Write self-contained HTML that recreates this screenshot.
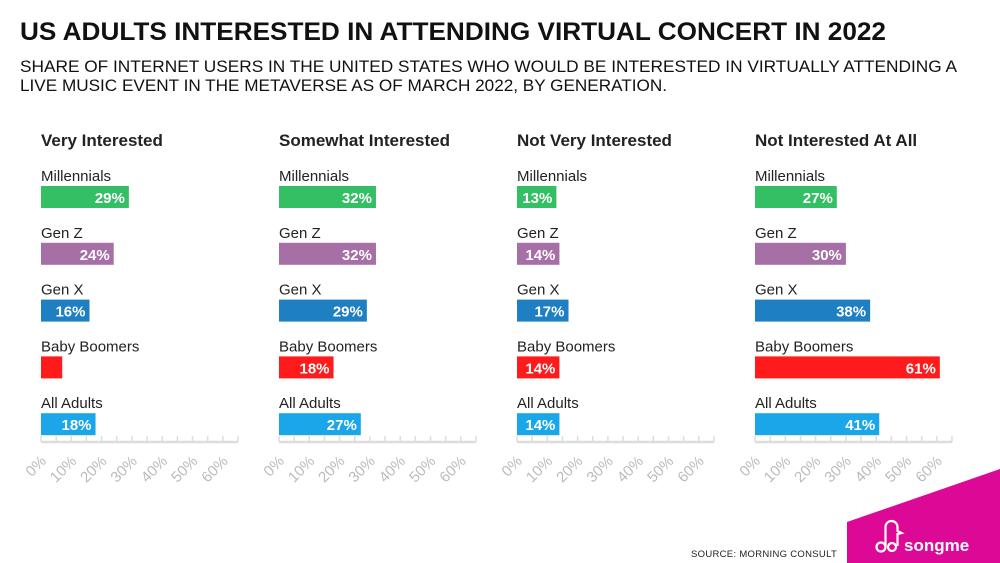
<!DOCTYPE html>
<html><head><meta charset="utf-8"><style>
body{margin:0;width:1000px;height:563px;overflow:hidden;background:#fff;font-family:"Liberation Sans",sans-serif;}
svg{display:block}
</style></head><body>
<svg id="chart" width="1000" height="563" viewBox="0 0 1000 563">
<text x="20" y="40" font-size="25" font-weight="bold" fill="#111" textLength="866" lengthAdjust="spacingAndGlyphs">US ADULTS INTERESTED IN ATTENDING VIRTUAL CONCERT IN 2022</text>
<text x="20" y="72" font-size="16.2" fill="#111" textLength="937" lengthAdjust="spacingAndGlyphs">SHARE OF INTERNET USERS IN THE UNITED STATES WHO WOULD BE INTERESTED IN VIRTUALLY ATTENDING A</text>
<text x="20" y="91" font-size="16.2" fill="#111" textLength="647" lengthAdjust="spacingAndGlyphs">LIVE MUSIC EVENT IN THE METAVERSE AS OF MARCH 2022, BY GENERATION.</text>
<g id="panels"></g>
<text x="691" y="557" font-size="9.5" fill="#222" letter-spacing="0.3">SOURCE: MORNING CONSULT</text>
<polygon points="847,522 1000,469 1000,563 847,563" fill="#dc0896"/>
<g fill="none" stroke="#fff" stroke-width="2.2">
<circle cx="881" cy="547" r="4.5"/><path d="M885.5 547 V527 a6 6 0 0 1 12 0 v4 l4 2 l-4 1 v12"/><circle cx="892" cy="547" r="4"/>
</g>
<text x="904" y="551" font-size="17" font-weight="bold" fill="#fff">songme</text>
</svg>
<script>
const panelTitles=["Very Interested","Somewhat Interested","Not Very Interested","Not Interested At All"];
const groups=["Millennials","Gen Z","Gen X","Baby Boomers","All Adults"];
const veryInterested=[29,24,16,7,18];
const somewhatInterested=[32,32,29,18,27];
const notVeryInterested=[13,14,17,14,14];
const notInterestedAtAll=[27,30,38,61,41];
const tickLabels=["0%","10%","20%","30%","40%","50%","60%"];
const series=[veryInterested,somewhatInterested,notVeryInterested,notInterestedAtAll];
const colors=["#35bf64","#a66fa6","#1e7fc3","#ff1b1b","#1aa6e9"];
const NS="http://www.w3.org/2000/svg";
const root=document.getElementById('panels');
const scale=3.03, axisMax=65;
function mk(t,a,p){const e=document.createElementNS(NS,t);for(const k in a)e.setAttribute(k,a[k]);(p||root).appendChild(e);return e;}
series.forEach((vals,pi)=>{
  const x0=41+pi*238;
  const xs=v=>x0+v*scale;
  const g=mk('g',{});
  
  
  const t=mk('text',{x:x0,y:146,'font-size':17,'font-weight':'bold',fill:'#222'},g);
  t.textContent=panelTitles[pi];
  
  
  vals.forEach((v,i)=>{
    const y=186+i*56.8;
    const l=mk('text',{x:x0,y:y-5,'font-size':15,fill:'#222'},g);
    l.textContent=groups[i];
    
    
    const r=mk('rect',{x:x0,y:y,width:xs(v)-x0,height:22,fill:colors[i]},g);
    
    
    if(v>=10){
      const vt=mk('text',{x:xs(v)-4,y:y+17,'font-size':15,'font-weight':'bold',fill:'#fff','text-anchor':'end'},g);
      vt.textContent=v+'%';
      
      
    }
  });
  const ax=mk('line',{x1:x0,x2:xs(axisMax),y1:442,y2:442,stroke:'#ddd','stroke-width':2.5},g);
  
  
  for(let k=0;k<=axisMax;k+=5){
    const tk=mk('line',{x1:xs(k),x2:xs(k),y1:436,y2:442,stroke:'#ddd','stroke-width':1.5},g);
    
    
  }
  tickLabels.forEach((s,k)=>{
    const tx=xs(k*10)+6, ty=462;
    const tl=mk('text',{x:tx,y:ty,'font-size':15,fill:'#bbb','text-anchor':'end',transform:`rotate(-45 ${tx} ${ty})`},g);
    tl.textContent=s;
    
    
  });
});
</script>
</body></html>
